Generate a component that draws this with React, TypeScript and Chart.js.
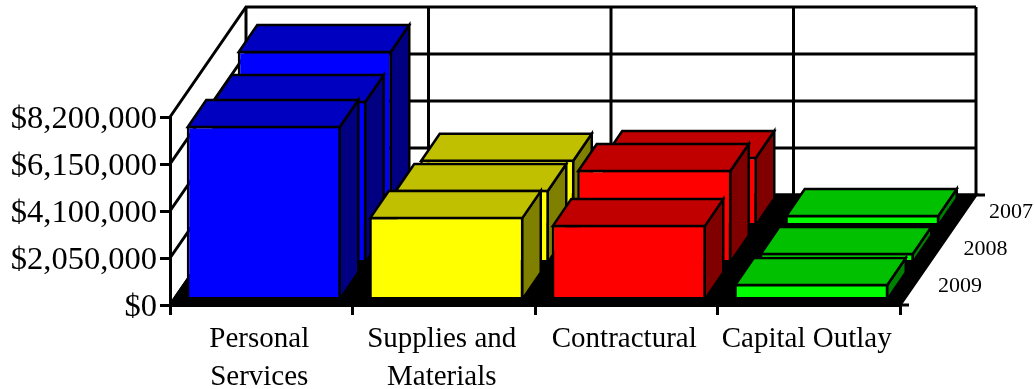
import React, { useEffect, useRef } from "react";
import { Chart, registerables } from "chart.js";

Chart.register(...registerables);

const categories = [["Personal", "Services"], ["Supplies and", "Materials"], ["Contractural"], ["Capital Outlay"]];
const seriesNames = ["2009", "2008", "2007"];
const values2009 = [7630000, 3660000, 3310000, 740000];
const values2008 = [7110000, 3230000, 4100000, 480000];
const values2007 = [7680000, 2930000, 3050000, 520000];
const frontColors = ["#0000ff", "#ffff00", "#ff0000", "#00ff00"];
const topColors = ["#0000c0", "#c0c000", "#c00000", "#00c000"];
const sideColors = ["#000080", "#808000", "#800000", "#008000"];
const yTicks = [0, 2050000, 4100000, 6150000, 8200000];

const FONT = '"Liberation Serif", "Times New Roman", serif';
const WALL_DX = 76;
const WALL_DY = 110;
const START_DX = 2.5;
const START_DY = 4;
const STEP_DX = 25.5;
const STEP_DY = 37;
const BAR_DX = 18.5;
const BAR_DY = 27;
const WALL_LINE = 3;
const BAR_LINE = 2.5;

function poly(ctx: CanvasRenderingContext2D, pts: number[][], fill: string | null) {
  ctx.beginPath();
  pts.forEach((p, i) => (i ? ctx.lineTo(p[0], p[1]) : ctx.moveTo(p[0], p[1])));
  ctx.closePath();
  if (fill) {
    ctx.fillStyle = fill;
    ctx.fill();
  }
  ctx.stroke();
}

const wallsPlugin = {
  id: "walls",
  beforeDraw(chart: any) {
    const { ctx, scales } = chart;
    const x = scales.x;
    const y = scales.y;
    const L = x.left;
    const R = x.right;
    const B = y.bottom;
    ctx.save();
    ctx.strokeStyle = "#000";
    ctx.lineWidth = WALL_LINE;
    poly(ctx, [[L, B], [L + WALL_DX, B - WALL_DY], [R + WALL_DX, B - WALL_DY], [R, B]], "#000");
    yTicks.forEach((v) => {
      const py = y.getPixelForValue(v);
      ctx.beginPath();
      ctx.moveTo(L, py);
      ctx.lineTo(L + WALL_DX, py - WALL_DY);
      ctx.lineTo(R + WALL_DX, py - WALL_DY);
      ctx.stroke();
    });
    const n = categories.length;
    for (let i = 0; i <= n; i++) {
      const px = L + ((R - L) * i) / n + WALL_DX;
      ctx.beginPath();
      ctx.moveTo(px, y.top - WALL_DY);
      ctx.lineTo(px, B - WALL_DY);
      ctx.stroke();
    }
    ctx.beginPath();
    ctx.moveTo(R, B);
    ctx.lineTo(R + 9, B);
    ctx.moveTo(R + WALL_DX, B - WALL_DY);
    ctx.lineTo(R + WALL_DX + 9, B - WALL_DY);
    ctx.stroke();
    ctx.restore();
  },
  beforeDatasetDraw(chart: any, args: any) {
    const { ctx } = chart;
    const i = args.index;
    ctx.save();
    ctx.translate(START_DX + STEP_DX * i, -START_DY - STEP_DY * i);
    ctx.strokeStyle = "#000";
    ctx.lineWidth = BAR_LINE;
    ctx.lineJoin = "miter";
    args.meta.data.forEach((bar: any, c: number) => {
      const l = bar.x - bar.width / 2;
      const r = bar.x + bar.width / 2;
      const t = bar.y;
      const b = bar.base;
      poly(ctx, [[r - 1, t + 1], [r - 1 + BAR_DX, t + 1 - BAR_DY], [r - 1 + BAR_DX, b - BAR_DY], [r - 1, b]], sideColors[c]);
      poly(ctx, [[l + 1, t + 1], [l + 1 + BAR_DX, t + 1 - BAR_DY], [r - 1 + BAR_DX, t + 1 - BAR_DY], [r - 1, t + 1]], topColors[c]);
    });
  },
  afterDatasetDraw(chart: any) {
    chart.ctx.restore();
  },
  afterDraw(chart: any) {
    const { ctx, scales } = chart;
    const R = scales.x.right;
    const B = scales.y.bottom;
    ctx.save();
    ctx.fillStyle = "#000";
    ctx.font = `22px ${FONT}`;
    ctx.textAlign = "left";
    ctx.textBaseline = "middle";
    seriesNames.forEach((name, i) => {
      ctx.fillText(name, R + 38 + STEP_DX * i, B - 19 - STEP_DY * i);
    });
    ctx.restore();
  },
};

export default function App() {
  const ref = useRef<HTMLCanvasElement>(null);
  useEffect(() => {
    const makeSet = (label: string, data: number[]) => ({
      label,
      data,
      backgroundColor: frontColors,
      borderColor: "#000",
      borderWidth: BAR_LINE,
      borderSkipped: false,
      grouped: false,
      barPercentage: 0.844,
      categoryPercentage: 1,
      clip: false,
    });
    const chart = new Chart(ref.current as HTMLCanvasElement, {
      type: "bar",
      data: {
        labels: categories as any,
        datasets: [
          makeSet(seriesNames[0], values2009),
          makeSet(seriesNames[1], values2008),
          makeSet(seriesNames[2], values2007),
        ] as any,
      },
      plugins: [wallsPlugin as any],
      options: {
        responsive: false,
        animation: false,
        layout: { padding: { top: 117, right: 135, left: 0, bottom: 0 } },
        plugins: { legend: { display: false }, tooltip: { enabled: false } },
        scales: {
          x: {
            afterFit: (s: any) => {
              s.height = 84;
            },
            grid: { display: true, offset: true, drawOnChartArea: false, color: "#000", lineWidth: WALL_LINE, tickLength: 10, tickColor: "#000", tickWidth: WALL_LINE },
            border: { display: true, color: "#000", width: WALL_LINE },
            ticks: {
              autoSkip: false,
              maxRotation: 0,
              minRotation: 0,
              padding: 5,
              labelOffset: -2,
              color: "#000",
              font: { family: FONT, size: 29, lineHeight: 1.31 },
            },
          },
          y: {
            min: 0,
            max: 8200000,
            afterFit: (s: any) => {
              s.width = 170;
            },
            afterBuildTicks: (s: any) => {
              s.ticks = yTicks.map((value) => ({ value }));
            },
            grid: { display: true, drawOnChartArea: false, color: "#000", lineWidth: WALL_LINE, tickLength: 10, tickColor: "#000", tickWidth: WALL_LINE },
            border: { display: true, color: "#000", width: WALL_LINE },
            ticks: {
              padding: 3,
              labelOffset: 2,
              color: "#000",
              font: { family: FONT, size: 32.5 },
              callback: (v: any) => "$" + Number(v).toLocaleString("en-US"),
            },
          },
        },
      },
    } as any);
    return () => chart.destroy();
  }, []);
  return (
    <div style={{ position: "absolute", left: 0, top: 0, width: 1035, height: 389, background: "#fff" }}>
      <canvas ref={ref} width={1035} height={389} style={{ display: "block" }} />
    </div>
  );
}
